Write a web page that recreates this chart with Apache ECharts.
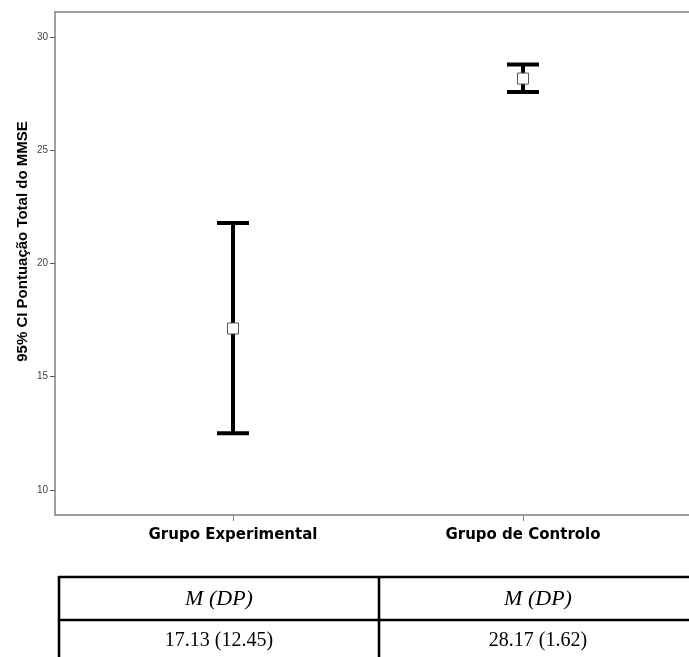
<!DOCTYPE html>
<html><head><meta charset="utf-8">
<script src="https://cdn.jsdelivr.net/npm/echarts@6/dist/echarts.min.js"></script>
<style>html,body{margin:0;padding:0;background:#fff}#c{width:689px;height:657px}</style>
</head><body><div id="c"></div>
<script>
const categories = ['Grupo Experimental', 'Grupo de Controlo'];
const means = [17.13, 28.17];
const sds = [12.45, 1.62];
const ciLow = [12.5, 27.58];
const ciHigh = [21.79, 28.79];
const yTicks = [10, 15, 20, 25, 30];
const yTitle = '95% CI Pontuação Total do MMSE';
const tableHeader = ['M (DP)', 'M (DP)'];

const chart = echarts.init(document.getElementById('c'), null, {renderer: 'canvas'});
const seriesData = categories.map((c, i) => [i, means[i], ciLow[i], ciHigh[i]]);
const catIdx = categories.map((c, i) => i);

// table geometry
const colX = [59, 379, 697];
const rowY = [577, 620, 663];
const tableGraphics = [];
const lineStyle = {stroke: '#000', lineWidth: 2.6};
colX.forEach(x => tableGraphics.push({type: 'line', shape: {x1: x, y1: rowY[0] - 1, x2: x, y2: rowY[2]}, style: lineStyle}));
rowY.forEach(y => tableGraphics.push({type: 'line', shape: {x1: colX[0] - 1, y1: y, x2: colX[2] + 1, y2: y}, style: lineStyle}));
categories.forEach((c, i) => {
  const cx = (colX[i] + colX[i + 1]) / 2;
  tableGraphics.push({type: 'text', x: cx, y: (rowY[0] + rowY[1]) / 2 + 1,
    style: {text: tableHeader[i], font: 'italic 22px "Liberation Serif", "Times New Roman", serif', fill: '#000', align: 'center', verticalAlign: 'middle'}});
  tableGraphics.push({type: 'text', x: cx, y: (rowY[1] + rowY[2]) / 2 - 1,
    style: {text: means[i].toFixed(2) + ' (' + sds[i].toFixed(2) + ')', font: '20px "Liberation Serif", "Times New Roman", serif', fill: '#000', align: 'center', verticalAlign: 'middle'}});
});

const axisColor = '#7f7f7f';
const option = {
  animation: false,
  grid: {left: 55, top: 12, right: 0, bottom: 142, show: false},
  xAxis: [{
    type: 'value', min: -0.6138, max: 1.5724, position: 'bottom',
    splitLine: {show: false},
    axisLine: {show: true, onZero: false, lineStyle: {color: axisColor, width: 1.5}},
    axisTick: {show: true, customValues: catIdx, length: 6, lineStyle: {color: axisColor, width: 1}},
    axisLabel: {customValues: catIdx, formatter: v => categories[Math.round(v)], margin: 13,
      fontFamily: '"DejaVu Sans", sans-serif', fontWeight: 'bold', fontSize: 15, color: '#000'}
  }, {
    type: 'value', min: -0.6138, max: 1.5724, position: 'top',
    splitLine: {show: false},
    axisLine: {show: true, onZero: false, lineStyle: {color: axisColor, width: 1.5}},
    axisTick: {show: false}, axisLabel: {show: false}
  }],
  yAxis: {
    type: 'value', min: 8.89, max: 31.11,
    splitLine: {show: false},
    axisLine: {show: true, onZero: false, lineStyle: {color: axisColor, width: 1.5}},
    axisTick: {show: true, customValues: yTicks, length: 5, lineStyle: {color: '#555', width: 1}},
    axisLabel: {customValues: yTicks, margin: 7, fontFamily: '"Liberation Sans", Arial, sans-serif', fontSize: 10, color: '#444'}
  },
  graphic: [
    {type: 'text', x: 23, y: 241.5, rotation: Math.PI / 2,
      style: {text: yTitle, font: 'bold 15px "Liberation Sans", Arial, sans-serif', fill: '#000', align: 'center', verticalAlign: 'middle'}},
    ...tableGraphics
  ],
  series: [{
    type: 'custom',
    data: seriesData,
    encode: {x: 0, y: [1, 2, 3]},
    renderItem: (params, api) => {
      const x = api.value(0);
      const m = api.coord([x, api.value(1)]);
      const lo = api.coord([x, api.value(2)]);
      const hi = api.coord([x, api.value(3)]);
      const hw = 16;
      const st = {stroke: '#000', lineWidth: 4};
      return {type: 'group', children: [
        {type: 'line', shape: {x1: lo[0], y1: lo[1], x2: hi[0], y2: hi[1]}, style: st},
        {type: 'line', shape: {x1: hi[0] - hw, y1: hi[1], x2: hi[0] + hw, y2: hi[1]}, style: st},
        {type: 'line', shape: {x1: lo[0] - hw, y1: lo[1], x2: lo[0] + hw, y2: lo[1]}, style: st},
        {type: 'rect', shape: {x: m[0] - 5.5, y: m[1] - 5.5, width: 11, height: 11}, style: {fill: '#fff', stroke: '#555', lineWidth: 1}}
      ]};
    }
  }]
};
chart.setOption(option);
</script>
</body></html>
